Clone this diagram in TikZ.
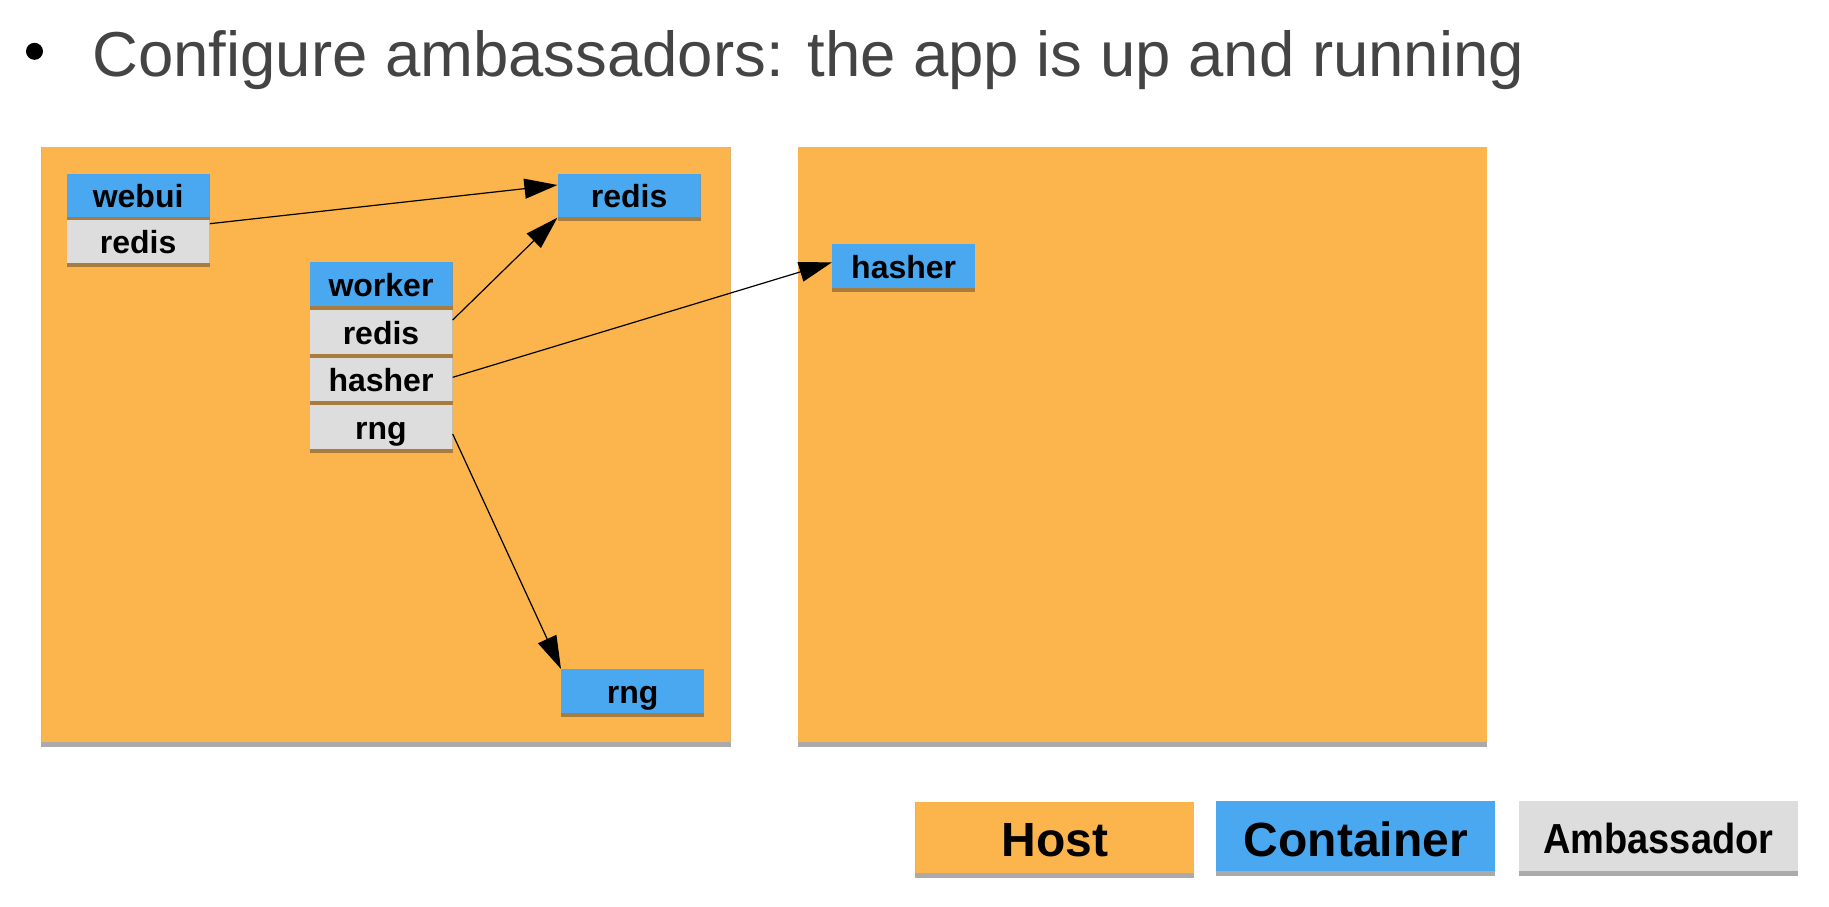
\documentclass[tikz,border=0pt]{standalone}
\usepackage{fontspec}
\setmainfont{Liberation Sans}
\usepackage{graphicx}
\usetikzlibrary{arrows.meta}
\definecolor{hostc}{RGB}{252,180,76}
\definecolor{contc}{RGB}{74,168,240}
\definecolor{ambc}{RGB}{221,221,221}
\definecolor{brownc}{RGB}{168,124,60}
\definecolor{shadowc}{RGB}{170,170,170}
\definecolor{titlec}{RGB}{68,68,68}
\begin{document}
\begin{tikzpicture}[x=1pt,y=-1pt,
  box/.style={rectangle, anchor=north west, inner sep=0pt, minimum width=143pt,
    text height=34pt, text depth=13.5pt, fill=brownc, text=black,
    font=\fontsize{32}{32}\selectfont\bfseries},
  container/.style={box, path picture={\fill[contc] (path picture bounding box.north west) rectangle ([yshift=4.2pt]path picture bounding box.south east);}},
  ambassador/.style={box, path picture={\fill[ambc] (path picture bounding box.north west) rectangle ([yshift=4.2pt]path picture bounding box.south east);}},
  hostbox/.style={rectangle, anchor=north west, inner sep=0pt, minimum width=689.3pt, minimum height=600pt, fill=shadowc,
    path picture={\fill[hostc] (path picture bounding box.north west) rectangle ([yshift=4.7pt]path picture bounding box.south east);}},
  legbox/.style={rectangle, anchor=north west, inner sep=0pt, minimum width=279pt, fill=shadowc, text=black},
  conn/.style={draw=black, line width=1.2pt, -{Triangle[length=33pt,width=20pt]}}
]
\useasboundingbox (0,0) rectangle (1829,906);
% title
\fill[black] (34.5,51.3) circle (8.5);
\node[anchor=base west, inner sep=0pt, text=titlec, font=\fontsize{63.5}{64}\selectfont] (title) at (92,76.5) {Configure ambassadors: the app is up and running};
% hosts
\node[hostbox] (host1) at (41.2,146.7) {};
\node[hostbox] (host2) at (797.3,146.7) {};
% containers and ambassadors
\node[container] (webui) at (66.4,173.7) {webui};
\node[ambassador] (wredis) at (66.4,219.3) {redis};
\node[container] (redis) at (557.4,173.3) {redis};
\node[container] (worker) at (309.3,262) {worker};
\node[ambassador] (kredis) at (309.3,310) {redis};
\node[ambassador] (khasher) at (309.3,357.7) {hasher};
\node[ambassador] (krng) at (309.3,405) {rng};
\node[container] (hasher) at (832,244) {hasher};
\node[container] (rng) at (561,669) {rng};
% connectors
\draw[conn] ([yshift=-4.4pt]wredis.north east) -- ([yshift=-11.7pt]redis.north west);
\draw[conn] ([yshift=-10pt]kredis.north east) -- ([yshift=3.5pt]redis.south west);
\draw[conn] ([yshift=-19.6pt]khasher.north east) -- ([yshift=-18.3pt]hasher.north west);
\draw[conn] ([yshift=-29pt]krng.north east) -- (rng.north west);
% legend
\node[legbox, text height=54.7pt, text depth=20.6pt, minimum width=279.1pt,
  path picture={\fill[hostc] (path picture bounding box.north west) rectangle ([yshift=4.6pt]path picture bounding box.south east);},
  font=\fontsize{48}{48}\selectfont\bfseries] (leghost) at (915.1,802) {Host};
\node[legbox, text height=55.3pt, text depth=19.3pt,
  path picture={\fill[contc] (path picture bounding box.north west) rectangle ([yshift=4.6pt]path picture bounding box.south east);},
  font=\fontsize{48}{48}\selectfont\bfseries] (legcont) at (1216,800.7) {Container};
\node[legbox, text height=52.6pt, text depth=22pt, minimum width=279.1pt,
  path picture={\fill[ambc] (path picture bounding box.north west) rectangle ([yshift=4.6pt]path picture bounding box.south east);},
  font=\fontsize{42}{42}\selectfont\bfseries] (legamb) at (1518.6,800.7) {\scalebox{0.905}[1]{Ambassador}};
\end{tikzpicture}
\end{document}
